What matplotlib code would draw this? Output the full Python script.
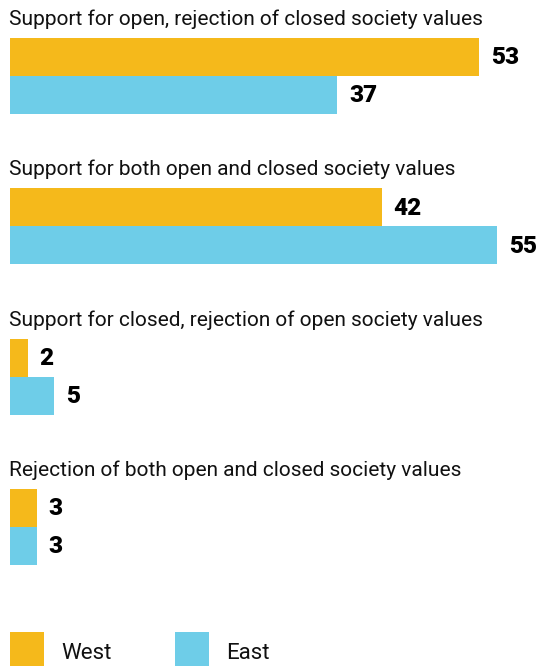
import matplotlib.pyplot as plt
from matplotlib.patches import Rectangle

categories = [
    "Support for open, rejection of closed society values",
    "Support for both open and closed society values",
    "Support for closed, rejection of open society values",
    "Rejection of both open and closed society values",
]
west = [53, 42, 2, 3]
east = [37, 55, 5, 3]
series_names = ["West", "East"]
colors = ["#F5B91B", "#6ECDE8"]

W, H = 543, 666
scale = 8.85      # pixels per percentage point
left = 10
bar_h = 38
group_step = 150.3
first_bar_top = 38

plt.rcParams['font.family'] = ['Roboto', 'DejaVu Sans']

fig = plt.figure(figsize=(W / 100, H / 100), dpi=100)
ax = fig.add_axes([0, 0, 1, 1])
ax.set_xlim(-left / scale, (W - left) / scale)
ax.set_ylim(H, 0)
ax.axis('off')

# overlay in pixel coords for titles and legend
ov = fig.add_axes([0, 0, 1, 1], facecolor='none')
ov.set_xlim(0, W)
ov.set_ylim(H, 0)
ov.axis('off')

for i, cat in enumerate(categories):
    top = first_bar_top + i * group_step
    ov.text(left - 1, top - 13, cat, fontsize=15, color='#111111', va='baseline', ha='left')
    for j, vals in enumerate([west, east]):
        y0 = top + j * bar_h
        ax.barh(y0 + bar_h / 2, vals[i], height=bar_h, left=0, color=colors[j], linewidth=0)
        ax.text(vals[i] + 12 / scale, y0 + bar_h / 2 + 1, str(vals[i]), fontsize=17.5,
                fontweight='black', color='black', va='center', ha='left')

# legend
leg_x = [10, 175]
for k, name in enumerate(series_names):
    ov.add_patch(Rectangle((leg_x[k], 632), 34, 34, color=colors[k], linewidth=0))
    ov.text(leg_x[k] + 51, 659, name, fontsize=16, color='#111111', va='baseline', ha='left')

fig.savefig('out.png', dpi=100)
